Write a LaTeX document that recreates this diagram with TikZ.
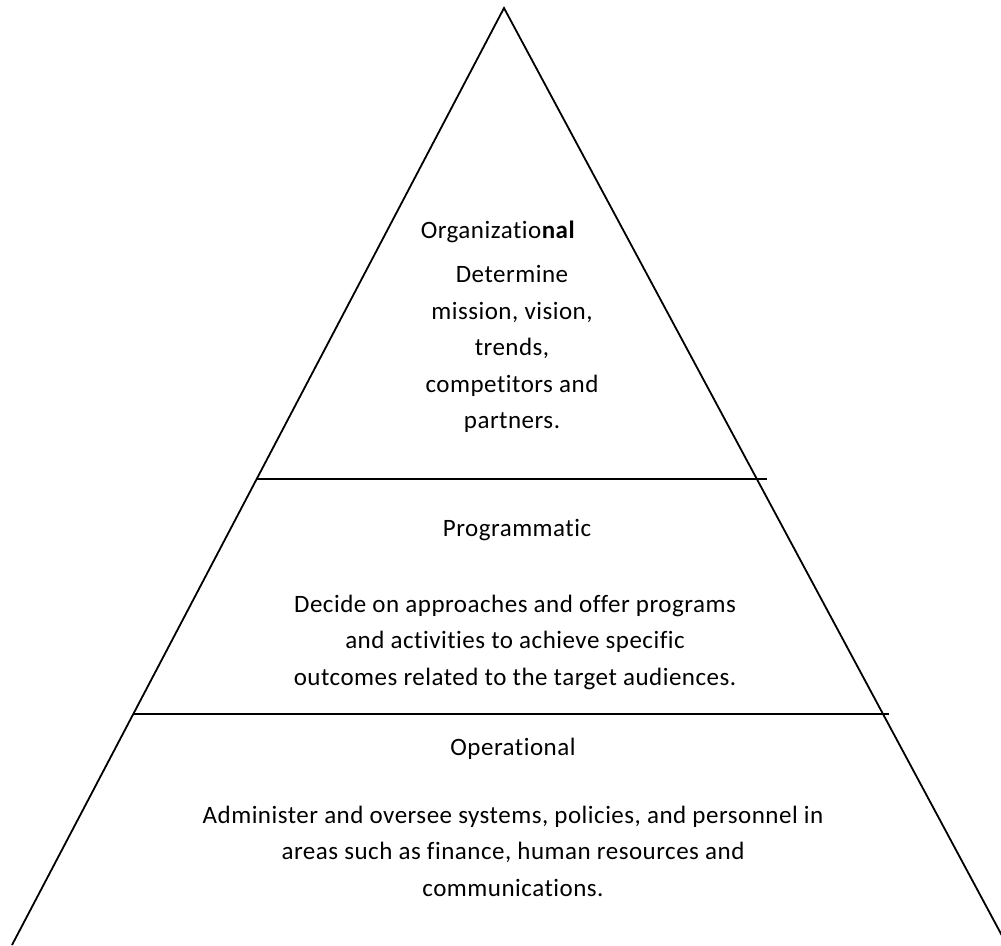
\documentclass[tikz,border=0pt]{standalone}
\usepackage{fontspec}
\setmainfont[Ligatures={NoCommon}, LetterSpace=2]{Carlito}
\tikzset{
    leveltitle/.style={inner sep=0pt, font=\fontsize{25}{36.5}\selectfont},
    leveltext/.style={inner sep=0pt, align=center, font=\fontsize{25}{36.5}\selectfont},
    side/.style={line width=1.8pt, line join=miter},
    divider/.style={line width=1.6pt}
}

\begin{document}
\begin{tikzpicture}[x=1pt, y=-1pt]
        \useasboundingbox (0,0) rectangle (1001,945);
        \clip (0,0) rectangle (1001,945);

        % Pyramid corners
        \coordinate (apex) at (504,8);
        \coordinate (baseL) at (12,945);
        \coordinate (baseR) at (1007,945);

        % Level boundaries
        \coordinate (div1L) at (256,479);
        \coordinate (div1R) at (767,479);
        \coordinate (div2L) at (133,714);
        \coordinate (div2R) at (889,714);

        % Pyramid
        \draw[side] (baseL) -- (apex) -- (baseR);
        \draw[divider] (div1L) -- (div1R);
        \draw[divider] (div2L) -- (div2R);

        % Top level
        \node (orgtitle) [leveltitle] at (498,232) {Organizatio\textbf{nal}};
        \node (orgtext) [leveltext] at (512,349) {Determine\\mission, vision,\\trends,\\competitors and\\partners.};

        % Middle level
        \node (progtitle) [leveltitle] at (517,530) {Programmatic};
        \node (progtext) [leveltext] at (515,642) {Decide on approaches and offer programs\\and activities to achieve specific\\outcomes related to the target audiences.};

        % Bottom level
        \node (opertitle) [leveltitle] at (513,749) {Operational};
        \node (opertext) [leveltext] at (513,851) {Administer and oversee systems, policies, and personnel in\\areas such as finance, human resources and\\communications.};
\end{tikzpicture}
\end{document}
